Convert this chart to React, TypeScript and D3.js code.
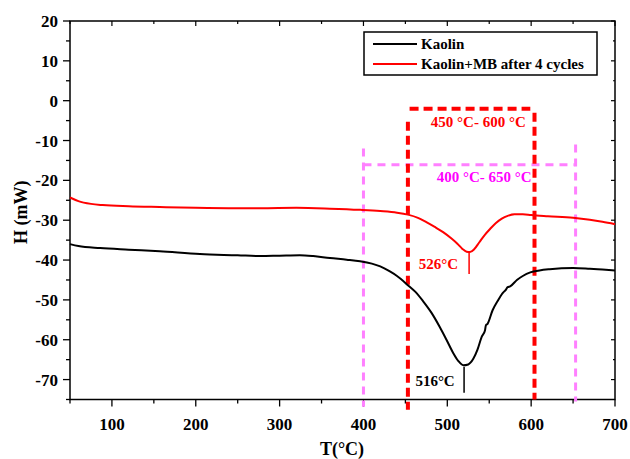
import React from "react";
import * as d3 from "d3";

const kaolinT = [50, 60, 86, 120, 157, 205, 250, 277, 300, 324, 340, 360, 380, 396, 410, 420, 431, 440, 453, 462, 471, 481, 491, 499, 507, 513, 519, 525, 531, 536, 541, 545, 546, 548, 554, 560, 566, 570, 572, 575, 583, 590, 599, 610, 622, 650, 670, 685, 700];
const kaolinH = [-36.0, -36.5, -37.0, -37.4, -37.8, -38.5, -38.8, -39.0, -38.9, -38.8, -39.0, -39.5, -39.9, -40.3, -40.9, -41.6, -42.8, -44.0, -46.3, -48.0, -50.3, -53.2, -56.8, -60.0, -63.3, -65.3, -66.4, -66.2, -64.8, -62.5, -59.3, -57.6, -56.4, -56.0, -52.6, -50.3, -48.3, -47.4, -46.8, -46.6, -45.0, -44.0, -43.1, -42.6, -42.3, -42.0, -42.2, -42.4, -42.6];

const mbT = [50, 60, 75, 89, 120, 157, 200, 250, 277, 320, 360, 396, 420, 440, 453, 465, 475, 485, 495, 505, 512, 518, 523, 527, 532, 538, 545, 551, 558, 565, 572, 580, 590, 600, 620, 650, 670, 685, 700];
const mbH = [-24.3, -25.2, -25.9, -26.2, -26.5, -26.7, -26.9, -27.0, -27.0, -26.9, -27.1, -27.4, -27.7, -28.1, -28.6, -29.4, -30.5, -31.7, -33.0, -34.6, -35.9, -37.2, -37.9, -38.0, -37.3, -35.6, -33.6, -32.2, -30.7, -29.6, -28.9, -28.5, -28.5, -28.7, -29.0, -29.4, -29.9, -30.4, -31.0];

const xTicks = [100, 200, 300, 400, 500, 600, 700];
const yTicks = [20, 10, 0, -10, -20, -30, -40, -50, -60, -70];
const seriesNames = ["Kaolin", "Kaolin+MB after 4 cycles"];
const rangeLabels = ["450 °C- 600 °C", "400 °C- 650 °C"];
const peakLabels = ["516°C", "526°C"];
const peakTemps = [520, 526];

const W = 630, H = 459;
const font = "'Liberation Serif', 'Times New Roman', serif";

export default function App() {
  const x = d3.scaleLinear().domain([50, 700]).range([70, 615]);
  const y = d3.scaleLinear().domain([-75, 20]).range([399.5, 21]);

  const mk = (ts: number[], hs: number[]) =>
    d3.line<number>().x((_, i) => x(ts[i])).y((d) => y(d)).curve(d3.curveMonotoneX)(hs) || "";

  const minorX = d3.range(50, 701, 50);
  const minorY = d3.range(-75, 21, 5);

  return (
    <svg width={W} height={H} style={{ position: "absolute", left: 0, top: 0, fontFamily: font }}>
      <rect x={0} y={0} width={W} height={H} fill="white" />
      {/* frame */}
      <rect x={x(50)} y={y(20)} width={x(700) - x(50)} height={y(-75) - y(20)} fill="none" stroke="black" strokeWidth={1.5} />
      {minorX.map((v) => (
        <line key={"bx" + v} x1={x(v)} x2={x(v)} y1={y(-75)} y2={y(-75) + (v % 100 === 0 ? 7 : 4)} stroke="black" strokeWidth={1.3} />
      ))}
      {minorX.map((v) => (
        <line key={"tx" + v} x1={x(v)} x2={x(v)} y1={y(20)} y2={y(20) + (v % 100 === 0 ? 5 : 3)} stroke="black" strokeWidth={1.2} />
      ))}
      {minorY.map((v) => (
        <line key={"ly" + v} x1={x(50)} x2={x(50) - (v % 10 === 0 ? 7 : 4)} y1={y(v)} y2={y(v)} stroke="black" strokeWidth={1.3} />
      ))}
      {minorY.map((v) => (
        <line key={"ry" + v} x1={x(700)} x2={x(700) - (v % 10 === 0 ? 4 : 2)} y1={y(v)} y2={y(v)} stroke="black" strokeWidth={1.2} />
      ))}
      {xTicks.map((v) => (
        <text key={"xl" + v} x={x(v)} y={430} textAnchor="middle" fontSize={17} fontWeight="bold">{v}</text>
      ))}
      {yTicks.map((v) => (
        <text key={"yl" + v} x={58} y={y(v) + 6} textAnchor="end" fontSize={17} fontWeight="bold">{v}</text>
      ))}
      <text x={342} y={455} textAnchor="middle" fontSize={18} fontWeight="bold">T(°C)</text>
      <text transform={`translate(27,${y(-28)}) rotate(-90)`} textAnchor="middle" fontSize={18} fontWeight="bold">H (mW)</text>

      {/* pink range box */}
      <g stroke="#ff80ff" strokeWidth={3} strokeDasharray="8,6" fill="none">
        <line x1={x(400)} x2={x(652)} y1={y(-16.1)} y2={y(-16.1)} />
        <line x1={x(400)} x2={x(400)} y1={y(-12)} y2={y(-76.8)} />
        <line x1={x(653)} x2={x(653)} y1={y(-11)} y2={y(-75.5)} />
      </g>
      {/* red range box */}
      <g stroke="#ff0000" strokeWidth={4} strokeDasharray="9,5" fill="none">
        <line x1={x(455)} x2={x(599)} y1={y(-2)} y2={y(-2)} />
        <line x1={x(453)} x2={x(453)} y1={y(-5.3)} y2={y(-77.6)} />
        <line x1={x(604)} x2={x(604)} y1={y(-3)} y2={y(-75)} />
      </g>
      <text x={x(537)} y={y(-6.6)} textAnchor="middle" fontSize={15} fontWeight="bold" fill="#ff0000">{rangeLabels[0]}</text>
      <text x={x(544)} y={y(-20.4)} textAnchor="middle" fontSize={15} fontWeight="bold" fill="#ff00ff">{rangeLabels[1]}</text>

      {/* curves */}
      <path d={mk(kaolinT, kaolinH)} fill="none" stroke="black" strokeWidth={2} />
      <path d={mk(mbT, mbH)} fill="none" stroke="#ff0000" strokeWidth={2} />

      {/* peak markers */}
      <line x1={x(peakTemps[0])} x2={x(peakTemps[0])} y1={y(-66.8)} y2={y(-73.3)} stroke="black" strokeWidth={1.5} />
      <text x={x(516) - 6} y={y(-71.5)} textAnchor="end" fontSize={15} fontWeight="bold" fill="black">{peakLabels[0]}</text>
      <line x1={x(peakTemps[1])} x2={x(peakTemps[1])} y1={y(-38)} y2={y(-43.5)} stroke="#ff0000" strokeWidth={1.5} />
      <text x={x(526) - 11} y={y(-42.2)} textAnchor="end" fontSize={15} fontWeight="bold" fill="#ff0000">{peakLabels[1]}</text>

      {/* legend */}
      <rect x={364} y={32} width={233} height={43} fill="white" stroke="black" strokeWidth={1.5} />
      <line x1={373} x2={417} y1={44} y2={44} stroke="black" strokeWidth={2} />
      <text x={421} y={49} fontSize={15} fontWeight="bold">{seriesNames[0]}</text>
      <line x1={373} x2={417} y1={64} y2={64} stroke="#ff0000" strokeWidth={2} />
      <text x={421} y={69} fontSize={15} fontWeight="bold">{seriesNames[1]}</text>
    </svg>
  );
}
